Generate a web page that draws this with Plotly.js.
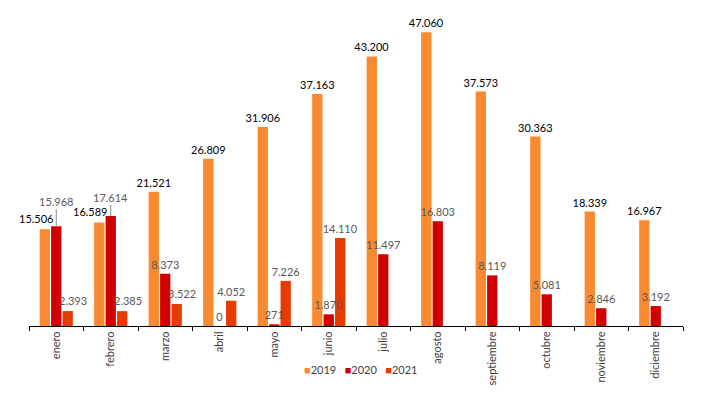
<!DOCTYPE html>
<html>
<head>
<meta charset="utf-8">
<script src="https://cdn.plot.ly/plotly-3.0.1.min.js"></script>
<style>html,body{margin:0;padding:0;background:#fff;}#chart{width:706px;height:398px;}</style>
</head>
<body>
<div id="chart"></div>
<script>
const months = ["enero","febrero","marzo","abril","mayo","junio","julio","agosto","septiembre","octubre","noviembre","diciembre"];
const seriesNames = ["2019","2020","2021"];
const v2019 = [15506,16589,21521,26809,31906,37163,43200,47060,37573,30363,18339,16967];
const v2020 = [15968,17614,8373,0,271,1870,11497,16803,8119,5081,2846,3192];
const v2021 = [2393,2385,3522,4052,7226,14110,null,null,null,null,null,null];
// labels drawn as annotations instead of bar text
const shifted2019 = [0,1];
const leader2020 = [0,1];
const shifted2021 = [0,1,2];

const colors = ["#FA8A32","#D10000","#E83B00"];
const labelColors = ["#000000","#595959","#595959"];
const FONT = "Lato, 'Open Sans', sans-serif";

function fmt(v){
  if(v===null||v===undefined) return "";
  return String(v).replace(/\B(?=(\d{3})+(?!\d))/g, ".");
}
function texts(vals, skip){
  return vals.map((v,i)=> skip.includes(i) ? "" : fmt(v));
}

const allVals = [v2019, v2020, v2021];
const skips = [shifted2019, leader2020, shifted2021];
const groups = ["g1","g2","g3"];
// bars
const barTraces = allVals.map((vals, k) => ({
  type: "bar",
  name: seriesNames[k],
  x: months,
  y: vals,
  offsetgroup: groups[k],
  marker: {color: colors[k]},
  showlegend: false,
  hoverinfo: "skip"
}));
// value labels drawn on top of all bars
const labelTraces = allVals.map((vals, k) => ({
  type: "bar",
  name: seriesNames[k] + " etiquetas",
  x: months,
  y: vals,
  offsetgroup: groups[k],
  text: texts(vals, skips[k]),
  textposition: "outside",
  constraintext: "none",
  textfont: {family: FONT, size: 11, color: labelColors[k]},
  cliponaxis: false,
  marker: {color: "rgba(0,0,0,0)"},
  showlegend: false,
  hoverinfo: "skip"
}));

const annotations = [];
shifted2019.forEach(i => annotations.push({
  x: months[i], y: v2019[i], xref: "x", yref: "y",
  text: fmt(v2019[i]), showarrow: false, yanchor: "bottom",
  xshift: -20, yshift: 2,
  font: {family: FONT, size: 11, color: labelColors[0]}
}));
shifted2021.forEach(i => annotations.push({
  x: months[i], y: v2021[i], xref: "x", yref: "y",
  text: fmt(v2021[i]), showarrow: false, yanchor: "bottom",
  xshift: 17, yshift: 2,
  font: {family: FONT, size: 11, color: labelColors[2]}
}));
const leaderOffsets = [-25, -19];
leader2020.forEach((i, j) => annotations.push({
  x: months[i], y: v2020[i], xref: "x", yref: "y",
  text: fmt(v2020[i]), showarrow: true, arrowhead: 0, arrowwidth: 1,
  arrowcolor: "#8c8c8c", ax: 0, ay: leaderOffsets[j], standoff: 0,
  font: {family: FONT, size: 11, color: labelColors[1]}
}));
// compact legend
const legendText = seriesNames.map((n, k) =>
  `<span style="color:${colors[k]}">■</span>${n}`).join("   ");
annotations.push({
  xref: "paper", yref: "paper", x: 0.507, y: -0.138, xanchor: "center", yanchor: "middle",
  text: legendText, showarrow: false,
  font: {family: FONT, size: 11, color: "#404040"}
});

const layout = {
  width: 706, height: 398,
  margin: {l: 29, r: 23, t: 14, b: 72, autoexpand: false},
  paper_bgcolor: "#ffffff", plot_bgcolor: "#ffffff",
  barmode: "group", bargap: 0.37, bargroupgap: 0.1,
  showlegend: false,
  xaxis: {
    type: "category", range: [-0.5, months.length - 0.5], autorange: false,
    showline: true, linecolor: "#000000", linewidth: 1,
    ticks: "outside", tickson: "boundaries", ticklen: 4, tickcolor: "#000000",
    tickangle: -90, tickfont: {family: FONT, size: 11, color: "#404040"},
    showgrid: false, zeroline: false, fixedrange: true
  },
  yaxis: {range: [0, 50000], autorange: false, visible: false, showgrid: false, zeroline: false, fixedrange: true},
  annotations: annotations,
  font: {family: FONT}
};

Plotly.newPlot("chart", barTraces.concat(labelTraces), layout, {displayModeBar: false, staticPlot: true});
</script>
</body>
</html>
